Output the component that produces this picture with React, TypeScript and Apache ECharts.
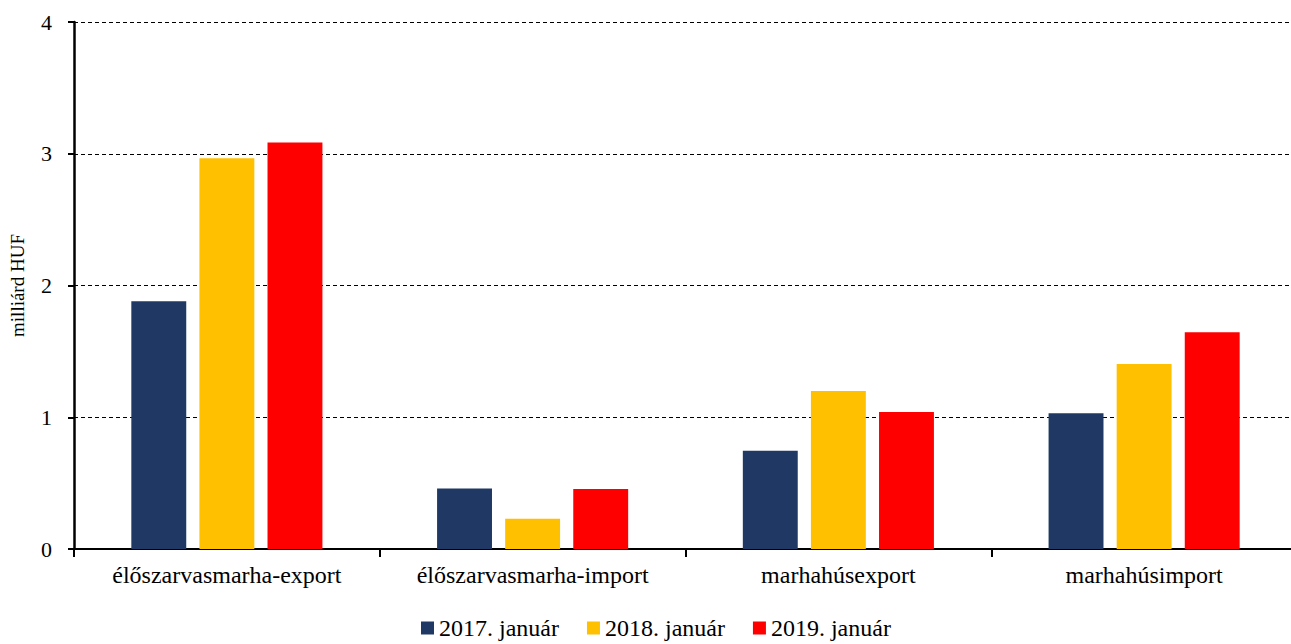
import React, { useEffect, useRef } from "react";
import * as echarts from "echarts";

const categories = [
  "élőszarvasmarha-export",
  "élőszarvasmarha-import",
  "marhahúsexport",
  "marhahúsimport",
];
const seriesNames = ["2017. január", "2018. január", "2019. január"];
const values2017 = [1.88, 0.46, 0.745, 1.03];
const values2018 = [2.965, 0.23, 1.2, 1.405];
const values2019 = [3.085, 0.455, 1.04, 1.645];
const colors = ["#203864", "#FFC000", "#FF0000"];
const yTicks = { min: 0, max: 4, interval: 1 };
const yTitle = "milliárd HUF";

const FONT = "Liberation Serif";

export default function App() {
  const ref = useRef<HTMLDivElement>(null);
  useEffect(() => {
    if (!ref.current) return;
    const chart = echarts.init(ref.current, undefined, { renderer: "svg" });
    const data = [values2017, values2018, values2019];
    chart.setOption({
      animation: false,
      textStyle: { fontFamily: FONT },
      grid: [{ left: 74, right: -6, top: 22, bottom: 95, outerBoundsMode: "none", containLabel: false }],
      legend: {
        bottom: -1,
        left: 416,
        itemWidth: 13,
        itemHeight: 13,
        itemGap: 28,
        icon: "rect",
        textStyle: { fontFamily: FONT, fontSize: 24, color: "#000" },
        data: seriesNames,
      },
      xAxis: [
        {
          type: "category",
          data: categories,
          axisLine: { lineStyle: { color: "#000", width: 2 } },
          axisTick: { show: true, length: 8, lineStyle: { color: "#000", width: 2 } },
          axisLabel: { interval: 0, fontFamily: FONT, fontSize: 24, color: "#000", margin: 14 },
        },
      ],
      yAxis: [
        {
          type: "value",
          min: yTicks.min,
          max: yTicks.max,
          interval: yTicks.interval,
          name: yTitle,
          nameLocation: "middle",
          nameGap: 47,
          nameRotate: 90,
          nameTextStyle: { fontFamily: FONT, fontSize: 19, color: "#000" },
          axisLine: { show: true, lineStyle: { color: "#000", width: 2.5 } },
          axisTick: { show: true, length: 6, lineStyle: { color: "#000", width: 2 } },
          axisLabel: {
            show: true,
            fontFamily: FONT,
            fontSize: 22,
            color: "#000",
            margin: 22,
          },
          splitLine: { show: true, lineStyle: { color: "#000", type: [4, 3], width: 1 } },
        },
      ],
      series: seriesNames.map((name, i) => ({
        name,
        type: "bar",
        data: data[i],
        barGap: "24%",
        barCategoryGap: "37.5%",
        itemStyle: { color: colors[i] },
      })),
    });
    return () => chart.dispose();
  }, []);
  return <div ref={ref} style={{ width: 1291, height: 644, position: "absolute", left: 0, top: 0 }} />;
}
